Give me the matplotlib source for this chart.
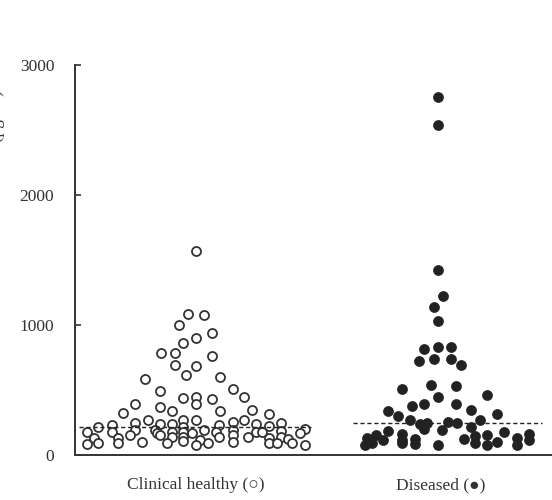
import numpy as np
import matplotlib
matplotlib.use("Agg")
import matplotlib.pyplot as plt

plt.rcParams['font.family'] = ['Liberation Serif', 'DejaVu Serif']

# group labels
groups = ['Clinical healthy (\u25cb)', 'Diseased (\u25cf)']

# clinical healthy: jitter offset from group centre, value
healthy_dx = [0.000, -0.033, 0.033, -0.070, 0.066, 0.000, -0.054, -0.145, -0.087, 0.066,
              -0.087, 0.000, -0.041, 0.099, -0.211, 0.153, -0.149, 0.198, 0.000, -0.054,
              0.066, 0.000, -0.252, -0.149, -0.099, 0.099, 0.231, -0.302, 0.302, -0.198,
              -0.054, 0.000, 0.153, 0.198, -0.252, -0.149, -0.099, 0.248, 0.351, -0.347,
              0.095, 0.302, -0.405, -0.054, 0.450, -0.450, -0.347, -0.252, -0.169, -0.099,
              -0.054, -0.017, 0.033, 0.083, 0.153, 0.248, 0.273, 0.351, 0.430, -0.273,
              -0.161, -0.149, -0.099, -0.054, 0.095, 0.153, 0.215, 0.302, 0.351, -0.421,
              -0.322, 0.380, 0.017, -0.054, -0.223, 0.153, -0.322, -0.450, -0.405, -0.120,
              0.050, 0.302, 0.335, 0.397, 0.000, 0.450]
healthy_val = [1569, 1085, 1077, 998, 941, 897, 859, 785, 785, 762,
               692, 682, 615, 597, 582, 504, 490, 444, 449, 436,
               432, 395, 392, 370, 338, 336, 346, 326, 315, 266,
               266, 266, 256, 266, 249, 240, 237, 236, 247, 230,
               230, 223, 212, 218, 203, 180, 180, 190, 192, 180,
               180, 167, 195, 180, 192, 180, 180, 183, 167, 154,
               172, 154, 138, 141, 141, 154, 141, 132, 141, 134,
               134, 122, 117, 110, 102, 102, 90, 82, 92, 90,
               90, 90, 90, 90, 77, 77]

# diseased
diseased_dx = [0.000, 0.000, 0.000, 0.021, -0.017, 0.000, -0.058, 0.000, 0.054, -0.079,
               -0.017, 0.054, 0.095, -0.029, 0.074, -0.149, 0.202, 0.000, -0.107, -0.058,
               0.074, -0.207, 0.136, -0.165, 0.244, -0.116, 0.174, -0.074, -0.045, 0.041,
               0.079, 0.136, -0.058, -0.207, 0.017, 0.273, -0.256, -0.149, 0.153, -0.293,
               -0.227, -0.149, -0.095, 0.107, 0.202, 0.153, 0.326, 0.376, 0.376, 0.244,
               -0.302, -0.273, -0.149, -0.095, 0.000, 0.202, 0.326]
diseased_val = [2756, 2538, 1423, 1223, 1141, 1033, 813, 833, 833, 726,
                741, 741, 692, 541, 531, 505, 462, 449, 379, 392,
                392, 335, 346, 302, 315, 266, 269, 238, 249, 256,
                249, 215, 197, 187, 190, 177, 156, 160, 146, 128,
                112, 118, 126, 121, 154, 90, 133, 160, 115, 100,
                77, 90, 90, 85, 77, 77, 77]

# group means (dashed lines)
healthy_mean = 212
diseased_mean = 243

yticks = [0, 1000, 2000, 3000]

fig = plt.figure(figsize=(5.52, 5.0), dpi=100)
ax = fig.add_axes([0.136, 0.09, 0.864, 0.78])

ax.plot(1 + np.array(healthy_dx), healthy_val, 'o', ms=6.5, mfc='white',
        mec='#333333', mew=1.3, ls='none')
ax.plot(2 + np.array(diseased_dx), diseased_val, 'o', ms=7.2, mfc='#222222',
        mec='#222222', mew=0.5, ls='none')

ax.hlines(healthy_mean, 0.517, 1.475, colors='#222222', linestyles=(0, (3, 2)), lw=1.0)
ax.hlines(diseased_mean, 1.649, 2.430, colors='#222222', linestyles=(0, (3, 2)), lw=1.0)

ax.set_xlim(0.5, 2.471)
ax.set_ylim(0, 3000)
ax.set_yticks(yticks)
ax.set_yticklabels([str(t) for t in yticks], fontsize=12.5, color='#333333')
ax.set_xticks([1, 2.01])
ax.set_xticklabels(groups, fontsize=12.5, color='#333333')
ax.tick_params(axis='y', direction='in', length=4, width=1.2, pad=15, colors='#333333')
ax.tick_params(axis='x', length=0, pad=16)

for s in ['top', 'right']:
    ax.spines[s].set_visible(False)
for s in ['left', 'bottom']:
    ax.spines[s].set_linewidth(1.4)
    ax.spines[s].set_color('#333333')

# y label mostly cut off at the left edge of the picture, as in the source
fig.text(0.009, 1 - 90 / 500, 'Serum concentration (pg/ml)', rotation=90,
         ha='right', va='top', fontsize=12.5, color='#333333')

fig.savefig('out.png', dpi=100)
